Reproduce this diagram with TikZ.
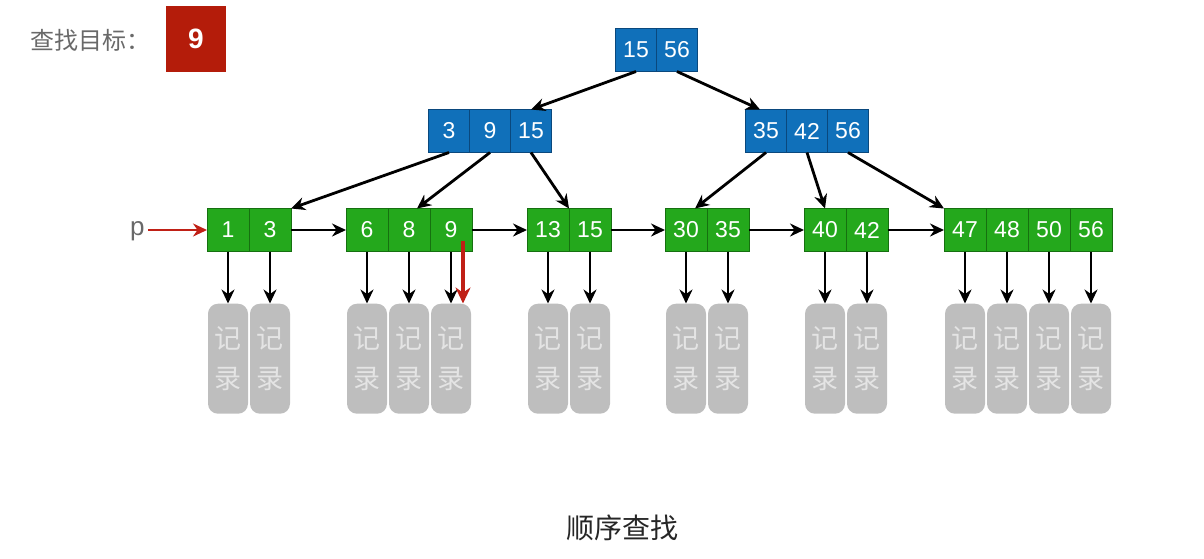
\documentclass[tikz,border=0pt]{standalone}
\usepackage{fontspec}
\setmainfont{Liberation Sans}
\newfontfamily\cjk{Noto Sans CJK SC}
\usepackage{tikz}
\usetikzlibrary{arrows.meta, positioning}
\definecolor{nodeblue}{RGB}{16,112,186}
\definecolor{edgeblue}{RGB}{10,72,125}
\definecolor{leafgreen}{RGB}{36,168,28}
\definecolor{edgegreen}{RGB}{22,112,16}
\definecolor{targetred}{RGB}{180,28,10}
\definecolor{ptrred}{RGB}{192,32,22}
\definecolor{recgray}{RGB}{190,190,190}
\definecolor{rectext}{RGB}{228,228,228}
\definecolor{labelgray}{RGB}{105,105,105}

\tikzset{
  keycell/.style={draw=edgeblue, fill=nodeblue, line width=1pt, text=white,
    minimum width=41pt, minimum height=43pt, inner sep=0pt, outer sep=0pt,
    font=\fontsize{23}{26}\selectfont},
  leafcell/.style={keycell, draw=edgegreen, fill=leafgreen, minimum width=42pt},
  record/.style={fill=recgray, text=rectext, rounded corners=10pt,
    minimum width=40pt, minimum height=110pt, inner sep=0pt, align=center,
    font=\cjk\fontsize{27}{40}\selectfont},
  link/.style={->, line width=2.8pt},
}

\begin{document}
\begin{tikzpicture}[x=1pt, y=-1pt, >={Stealth[length=14pt, width=13pt]}]
    \useasboundingbox (0,0) rectangle (1204,558);

    % search target
    \node[anchor=west, text=labelgray, font=\cjk\fontsize{24}{28}\selectfont] (goallabel) at (27,40) {查找目标：};
    \node[fill=targetred, text=white, minimum width=60pt, minimum height=66pt, font=\bfseries\fontsize{28}{32}\selectfont] (goal) at (196,39) {9};

    % root
    \node[keycell] (r1) at (636,50) {15};
    \node[keycell, right=0pt of r1] (r2) {56};

    % inner nodes
    \node[keycell] (a1) at (449,131) {3};
    \node[keycell, right=0pt of a1] (a2) {9};
    \node[keycell, right=0pt of a2] (a3) {15};
    \node[keycell] (b1) at (766,131) {35};
    \node[keycell, right=0pt of b1] (b2) {42};
    \node[keycell, right=0pt of b2] (b3) {56};

    % leaves
    \node[leafcell] (l1a) at (228,230) {1};
    \node[leafcell, right=0pt of l1a] (l1b) {3};
    \node[leafcell] (l2a) at (367,230) {6};
    \node[leafcell, right=0pt of l2a] (l2b) {8};
    \node[leafcell, right=0pt of l2b] (l2c) {9};
    \node[leafcell] (l3a) at (548,230) {13};
    \node[leafcell, right=0pt of l3a] (l3b) {15};
    \node[leafcell] (l4a) at (686,230) {30};
    \node[leafcell, right=0pt of l4a] (l4b) {35};
    \node[leafcell] (l5a) at (825,230) {40};
    \node[leafcell, right=0pt of l5a] (l5b) {42};
    \node[leafcell] (l6a) at (965,230) {47};
    \node[leafcell, right=0pt of l6a] (l6b) {48};
    \node[leafcell, right=0pt of l6b] (l6c) {50};
    \node[leafcell, right=0pt of l6c] (l6d) {56};

    % tree edges
    \draw[link] (r1.south) -- (a3.north);
    \draw[link] (r2.south) -- ([xshift=-6pt]b1.north);
    \draw[link] (a1.south) -- (l1b.north east);
    \draw[link] (a2.south) -- ([xshift=8pt]l2b.north);
    \draw[link] (a3.south) -- (l3a.north east);
    \draw[link] (b1.south) -- ([xshift=9pt]l4a.north);
    \draw[link] (b2.south) -- (l5a.north);
    \draw[link] (b3.south) -- (l6a.north west);

    % leaf chain
    \draw[link] (l1b.east) -- (l2a.west);
    \draw[link] (l2c.east) -- (l3a.west);
    \draw[link] (l3b.east) -- (l4a.west);
    \draw[link] (l4b.east) -- (l5a.west);
    \draw[link] (l5b.east) -- (l6a.west);

    % records
    \foreach \c in {l1a,l1b,l2a,l2b,l2c,l3a,l3b,l4a,l4b,l5a,l5b,l6a,l6b,l6c,l6d} {
        \node[record, below=52pt of \c] (rec-\c) {记\\录};
        \draw[link] (\c) -- (rec-\c);
    }

    % pointer
    \node[text=labelgray, font=\fontsize{26}{30}\selectfont, anchor=east] (pmark) at (148,231) {p};
    \draw[->, ptrred, line width=2.6pt] (pmark.east |- l1a.west) -- (l1a.west);
    \coordinate (hit) at ([xshift=12pt, yshift=-11pt]l2c.center);
    \draw[->, ptrred, line width=4pt, >={Stealth[length=16pt, width=15pt]}]
        (hit) -- (hit |- rec-l2c.north);

    \node[text=black!85, font=\cjk\fontsize{28}{32}\selectfont] (caption) at (622,528) {顺序查找};
\end{tikzpicture}
\end{document}
